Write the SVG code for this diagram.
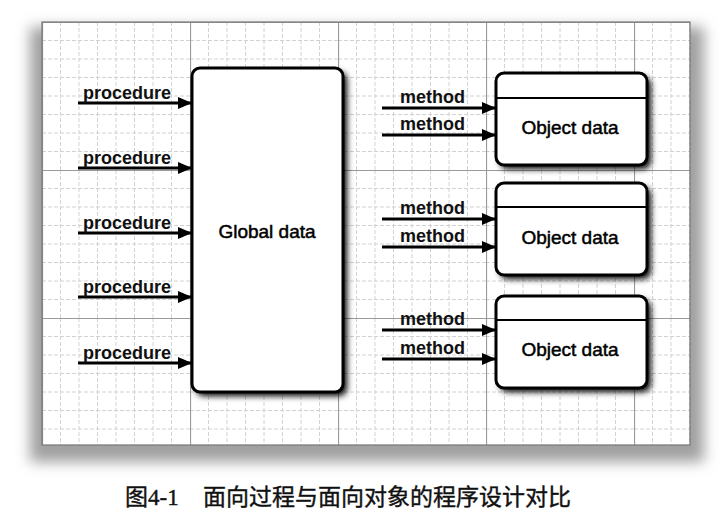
<svg xmlns="http://www.w3.org/2000/svg" width="721" height="526" viewBox="0 0 721 526">
<style>
.lbl{font-family:"Liberation Sans",Arial,sans-serif;font-size:18px;font-weight:bold;fill:#111}
.box{fill:#fff;stroke:#000;stroke-width:3}
.shd{fill:#000;filter:url(#blur)}
.title{font-family:"Liberation Sans",Arial,sans-serif;font-size:19px;fill:#000;stroke:#000;stroke-width:0.5}
.conn{stroke:#000;stroke-width:3;fill:none;marker-end:url(#ah)}
.minor{stroke:#d2d2d2;stroke-width:1;stroke-dasharray:4 2;fill:none}
.major{stroke:#999;stroke-width:1.2;fill:none}
</style>
<defs>
<filter id="blur" x="-20%" y="-20%" width="140%" height="140%"><feGaussianBlur stdDeviation="3"/></filter>
<filter id="fblur" x="-10%" y="-10%" width="120%" height="120%"><feGaussianBlur stdDeviation="7"/></filter>
<marker id="ah" markerUnits="userSpaceOnUse" markerWidth="14" markerHeight="12" refX="13" refY="6" orient="auto">
<path d="M0,0 L14,6 L0,12 Z" fill="#000"/>
</marker>
<pattern id="grid" patternUnits="userSpaceOnUse" x="42" y="22" width="148" height="148">
<path class="minor" d="M18.5,0V148M37,0V148M55.5,0V148M74,0V148M92.5,0V148M111,0V148M129.5,0V148M0,18.5H148M0,37H148M0,55.5H148M0,74H148M0,92.5H148M0,111H148M0,129.5H148"/>
<path class="major" d="M0.5,0V148M0,0.5H148"/>
</pattern>
</defs>
<rect width="721" height="526" fill="#fff"/>
<g id="frame">
<rect x="30" y="27" width="674" height="435" fill="#a0a0a0" filter="url(#fblur)"/>
<rect x="42" y="22" width="648" height="423" fill="#fff"/>
<rect x="42" y="22" width="648" height="423" fill="url(#grid)"/>
<rect x="42" y="22" width="648" height="423" fill="none" stroke="#777" stroke-width="1.2"/>
</g>
<g id="global">
<rect class="shd" x="196" y="72" width="151" height="324" rx="8"/>
<rect class="box" x="192" y="68" width="151" height="324" rx="8"/>
<text class="title" x="267" y="238" text-anchor="middle">Global data</text>
</g>
<g id="object1">
<rect class="shd" x="500" y="77" width="151" height="92" rx="8"/>
<rect class="box" x="496" y="73" width="151" height="92" rx="8"/>
<line x1="496" y1="98" x2="647" y2="98" stroke="#000" stroke-width="2"/>
<text class="title" x="570" y="134" text-anchor="middle">Object data</text>
</g>
<g id="object2">
<rect class="shd" x="500" y="187" width="151" height="92" rx="8"/>
<rect class="box" x="496" y="183" width="151" height="92" rx="8"/>
<line x1="496" y1="207" x2="647" y2="207" stroke="#000" stroke-width="2"/>
<text class="title" x="570" y="244" text-anchor="middle">Object data</text>
</g>
<g id="object3">
<rect class="shd" x="500" y="300" width="151" height="92" rx="8"/>
<rect class="box" x="496" y="296" width="151" height="92" rx="8"/>
<line x1="496" y1="320" x2="647" y2="320" stroke="#000" stroke-width="2"/>
<text class="title" x="570" y="356" text-anchor="middle">Object data</text>
</g>
<g id="connectors">
<line class="conn" x1="78" y1="103" x2="191" y2="103"/>
<line class="conn" x1="78" y1="168" x2="191" y2="168"/>
<line class="conn" x1="78" y1="233" x2="191" y2="233"/>
<line class="conn" x1="78" y1="297" x2="191" y2="297"/>
<line class="conn" x1="78" y1="363" x2="191" y2="363"/>
<line class="conn" x1="382" y1="108" x2="495" y2="108"/>
<line class="conn" x1="382" y1="135" x2="495" y2="135"/>
<line class="conn" x1="382" y1="219" x2="495" y2="219"/>
<line class="conn" x1="382" y1="247" x2="495" y2="247"/>
<line class="conn" x1="382" y1="330" x2="495" y2="330"/>
<line class="conn" x1="382" y1="359" x2="495" y2="359"/>
<text class="lbl" x="83" y="99">procedure</text>
<text class="lbl" x="83" y="164">procedure</text>
<text class="lbl" x="83" y="229">procedure</text>
<text class="lbl" x="83" y="293">procedure</text>
<text class="lbl" x="83" y="359">procedure</text>
<text class="lbl" x="400" y="103">method</text>
<text class="lbl" x="400" y="130">method</text>
<text class="lbl" x="400" y="214">method</text>
<text class="lbl" x="400" y="242">method</text>
<text class="lbl" x="400" y="325">method</text>
<text class="lbl" x="400" y="354">method</text>
</g>
<text id="caption" y="505" font-family="'Liberation Serif','Noto Sans CJK SC',serif" font-size="23" fill="#111" stroke="#111" stroke-width="0.4"><tspan x="125">图4-1</tspan><tspan x="203">面向过程与面向对象的程序设计对比</tspan></text>
</svg>
